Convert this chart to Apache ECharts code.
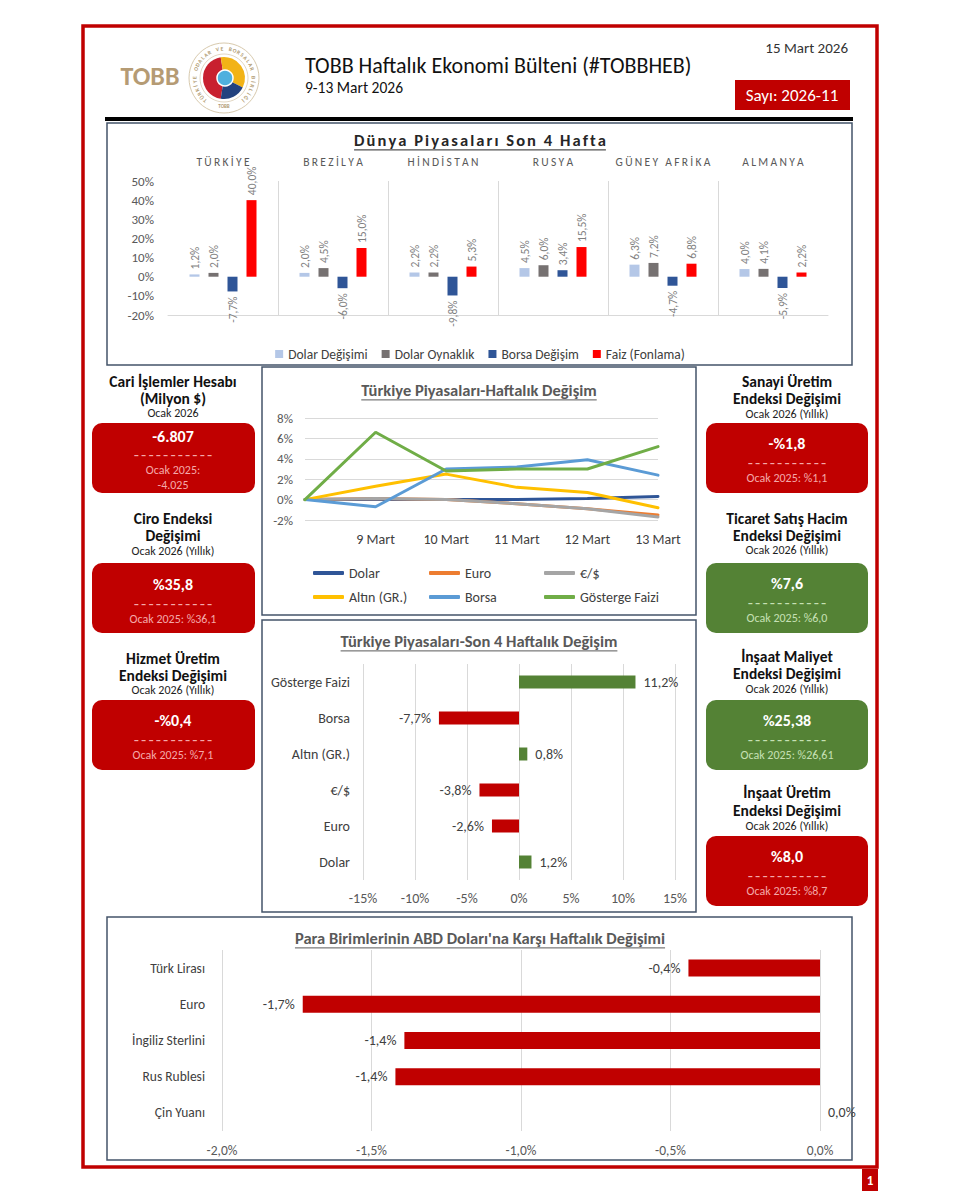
<!DOCTYPE html>
<html><head><meta charset="utf-8">
<script src="https://cdn.jsdelivr.net/npm/echarts@6/dist/echarts.min.js"></script>
<style>html,body{margin:0;padding:0;background:#fff}#c{width:960px;height:1200px}</style>
</head><body><div id="c"></div>
<script>
const FONT = 'Carlito, Lato, "Open Sans", sans-serif';

// ---- Dünya Piyasaları Son 4 Hafta ----
const worldCountries = ['TÜRKİYE','BREZİLYA','HİNDİSTAN','RUSYA','GÜNEY AFRİKA','ALMANYA'];
const dolarDegisimi = [1.2, 2.0, 2.2, 4.5, 6.3, 4.0];
const dolarOynaklik = [2.0, 4.5, 2.2, 6.0, 7.2, 4.1];
const borsaDegisim  = [-7.7, -6.0, -9.8, 3.4, -4.7, -5.9];
const faizFonlama   = [40.0, 15.0, 5.3, 15.5, 6.8, 2.2];

// ---- Türkiye Piyasaları-Haftalık Değişim ----
const weekDays  = ['', '9 Mart', '10 Mart', '11 Mart', '12 Mart', '13 Mart'];
const wDolar    = [0, 0.0, 0.0, 0.0, 0.1, 0.3];
const wEuro     = [0, 0.1, 0.0, -0.4, -0.9, -1.5];
const wEurUsd   = [0, 0.1, 0.0, -0.4, -0.9, -1.7];
const wAltin    = [0, 1.3, 2.5, 1.2, 0.7, -0.8];
const wBorsa    = [0, -0.7, 3.0, 3.2, 3.9, 2.4];
const wGosterge = [0, 6.6, 2.8, 3.0, 3.0, 5.2];

// ---- Türkiye Piyasaları-Son 4 Haftalık Değişim ----
const m4Cats = ['Dolar', 'Euro', '€/$', 'Altın (GR.)', 'Borsa', 'Gösterge Faizi'];
const m4Vals = [1.2, -2.6, -3.8, 0.8, -7.7, 11.2];

// ---- Para Birimlerinin ABD Doları'na Karşı Haftalık Değişimi ----
const curCats = ['Türk Lirası', 'Euro', 'İngiliz Sterlini', 'Rus Rublesi', 'Çin Yuanı'];
const curVals = [-0.44, -1.73, -1.39, -1.42, 0.0];

// ---- KPI texts ----
const kpiLeft = [
  {title:['Cari İşlemler Hesabı','(Milyon $)'], period:'Ocak 2026', value:'-6.807', prev:['Ocak 2025:','-4.025'], good:false},
  {title:['Ciro Endeksi','Değişimi'], period:'Ocak 2026 (Yıllık)', value:'%35,8', prev:['Ocak 2025: %36,1'], good:false},
  {title:['Hizmet Üretim','Endeksi Değişimi'], period:'Ocak 2026 (Yıllık)', value:'-%0,4', prev:['Ocak 2025: %7,1'], good:false}
];
const kpiRight = [
  {title:['Sanayi Üretim','Endeksi Değişimi'], period:'Ocak 2026 (Yıllık)', value:'-%1,8', prev:['Ocak 2025: %1,1'], good:false},
  {title:['Ticaret Satış Hacim','Endeksi Değişimi'], period:'Ocak 2026 (Yıllık)', value:'%7,6', prev:['Ocak 2025: %6,0'], good:true},
  {title:['İnşaat Maliyet','Endeksi Değişimi'], period:'Ocak 2026 (Yıllık)', value:'%25,38', prev:['Ocak 2025: %26,61'], good:true},
  {title:['İnşaat Üretim','Endeksi Değişimi'], period:'Ocak 2026 (Yıllık)', value:'%8,0', prev:['Ocak 2025: %8,7'], good:false}
];

// ---------- helpers ----------
const fmt1 = v => Number(v).toFixed(1).replace('.', ',') + '%';
const spaced = (s, sp) => s.split('').join(sp || '\u2009');
const ctx = document.createElement('canvas').getContext('2d');
const measure = (t, f) => { ctx.font = f; return ctx.measureText(t).width; };

const G = [];
function T(text, x, y, st) {
  G.push({type:'text', z:10, silent:true, style:Object.assign({text:text, x:x, y:y, fill:'#262626', fontSize:12, fontFamily:FONT, fontWeight:'normal', align:'center', verticalAlign:'middle'}, st || {})});
}
function R(x, y, w, h, st, r) {
  G.push({type:'rect', z:1, silent:true, shape:{x:x, y:y, width:w, height:h, r:r || 0}, style:Object.assign({fill:'none'}, st)});
}
function L(x1, y1, x2, y2, st) {
  G.push({type:'line', z:10, silent:true, shape:{x1:x1, y1:y1, x2:x2, y2:y2}, style:Object.assign({stroke:'#000', lineWidth:1}, st)});
}
function TU(text, cx, y, size, color) {
  T(text, cx, y, {fontSize:size, fontWeight:'bold', fill:color});
  const w = measure(text, 'bold ' + size + 'px ' + FONT);
  L(cx - w / 2, y + size * 0.6, cx + w / 2, y + size * 0.6, {stroke:color, lineWidth:1});
}
function kpi(cx, boxX, boxW, lay, d) {
  const color = d.good ? '#548235' : '#c00000';
  const sub = d.good ? '#c6e0b4' : '#f4a9a9';
  d.title.forEach((t, i) => T(t, cx, lay.titleY[i], {fontSize:15.5, lineHeight:16, fontWeight:'bold', fill:'#111'}));
  T(d.period, cx, lay.subY, {fontSize:12, lineHeight:13, fill:'#1f1f1f'});
  R(boxX, lay.boxY, boxW, 70, {fill:color}, 10);
  T(d.value, cx, lay.valueY, {fontSize:16, fontWeight:'bold', fill:'#ffffff'});
  T(spaced('-----------', '\u200A'), cx, lay.dashY, {fontSize:17, lineHeight:14, fill:sub});
  d.prev.forEach((t, i) => T(t, cx, lay.prevY + i * 15, {fontSize:12, lineHeight:14, fill:sub}));
}

// ---------- page frame & header ----------
R(83, 26, 794, 1141, {stroke:'#c00000', lineWidth:3.5});
R(862, 1169, 16, 22, {fill:'#c00000'});
T('1', 870, 1180, {fontSize:13, fontWeight:'bold', fill:'#fff'});

// logo
T('TOBB', 150, 76, {fontSize:26, fontWeight:'bold', fill:'#b59b74'});
G.push({type:'circle', z:2, silent:true, shape:{cx:224, cy:78, r:35}, style:{fill:'#fff', stroke:'#cdbb98', lineWidth:0.8}});
G.push({type:'circle', z:2, silent:true, shape:{cx:224, cy:78, r:24}, style:{fill:'#fff', stroke:'#cdbb98', lineWidth:0.6}});
G.push({type:'sector', z:3, silent:true, shape:{cx:224, cy:78, r:21, r0:0, startAngle:Math.PI*0.55, endAngle:Math.PI*1.45}, style:{fill:'#c8202f'}});
G.push({type:'sector', z:3, silent:true, shape:{cx:224, cy:78, r:21, r0:0, startAngle:Math.PI*1.45, endAngle:Math.PI*2.15}, style:{fill:'#f2b316'}});
G.push({type:'sector', z:3, silent:true, shape:{cx:224, cy:78, r:21, r0:0, startAngle:Math.PI*0.15, endAngle:Math.PI*0.55}, style:{fill:'#23427f'}});
G.push({type:'circle', z:4, silent:true, shape:{cx:225, cy:78, r:8}, style:{fill:'#4fb0de', stroke:'#fff', lineWidth:1.5}});
(function(){
  const txt = 'TÜRKİYE ODALAR VE BORSALAR BİRLİĞİ';
  const n = txt.length, a0 = -140, a1 = 140;
  for (let i = 0; i < n; i++) {
    const th = (a0 + (a1 - a0) * i / (n - 1)) * Math.PI / 180;
    G.push({type:'text', z:5, silent:true, x:224 + 29.5 * Math.sin(th), y:78 - 29.5 * Math.cos(th), rotation:-th,
      style:{text:txt[i], x:0, y:0, fontSize:5.5, fontWeight:'bold', fontFamily:FONT, fill:'#b09a70', align:'center', verticalAlign:'middle'}});
  }
})();
T('TOBB', 224, 106, {fontSize:5, fontWeight:'bold', fill:'#b09a70'});

T('TOBB Haftalık Ekonomi Bülteni (#TOBBHEB)', 305, 65, {fontSize:22, fill:'#111', align:'left'});
T('9-13 Mart 2026', 305, 87, {fontSize:15.5, fill:'#111', align:'left'});
T('15 Mart 2026', 848, 48, {fontSize:15, fill:'#333', align:'right'});
R(735, 80, 115, 30, {fill:'#c00000'});
T('Sayı: 2026-11', 792, 95, {fontSize:17, fill:'#fff'});
R(105, 117, 748, 4, {fill:'#000'});

// chart boxes
const BOX = {stroke:'#44546a', lineWidth:1.5};
R(107, 123, 745, 242, BOX);
R(262, 367, 434, 248, BOX);
R(262, 620, 434, 292, BOX);
R(107, 917, 745, 243, BOX);

// chart titles
TU(spaced('Dünya Piyasaları Son 4 Hafta', '\u200A'), 480, 140, 16.5, '#262626');
TU('Türkiye Piyasaları-Haftalık Değişim', 479, 390, 16.5, '#595959');
TU('Türkiye Piyasaları-Son 4 Haftalık Değişim', 479, 641, 16.5, '#595959');
TU("Para Birimlerinin ABD Doları'na Karşı Haftalık Değişimi", 480, 938, 16.5, '#595959');

// KPIs
const layL = [
  {titleY:[381, 398], subY:413, boxY:423, valueY:436, dashY:454, prevY:470},
  {titleY:[518, 535], subY:551, boxY:563, valueY:584, dashY:603, prevY:619},
  {titleY:[658, 675], subY:690, boxY:700, valueY:720, dashY:739, prevY:755}
];
const layR = [
  {titleY:[381, 398], subY:414, boxY:423, valueY:443, dashY:462, prevY:478},
  {titleY:[518, 535], subY:550, boxY:563, valueY:583, dashY:602, prevY:618},
  {titleY:[656, 673], subY:689, boxY:700, valueY:720, dashY:739, prevY:755},
  {titleY:[792, 810], subY:826, boxY:836, valueY:856, dashY:875, prevY:891}
];
kpiLeft.forEach((d, i) => kpi(173, 92, 163, layL[i], d));
kpiRight.forEach((d, i) => kpi(787, 706, 162, layR[i], d));

// ---------- chart option ----------
const vlab = v => ({value:v, label: v >= 0 ? {position:'top', align:'left'} : {position:'bottom', align:'right'}});
const barLabel = {show:true, rotate:90, verticalAlign:'middle', distance:5, color:'#7f7f7f', fontSize:11.5, formatter:p => fmt1(p.value)};
const worldBar = (name, arr, color) => ({name:name, type:'bar', xAxisIndex:0, yAxisIndex:0, barWidth:10, barGap:'90%', itemStyle:{color:color}, label:barLabel, data:arr.map(vlab)});
const wLine = (name, arr, color) => ({name:name, type:'line', xAxisIndex:2, yAxisIndex:1, symbol:'none', data:arr, lineStyle:{width:3, color:color, cap:'round'}, itemStyle:{color:color}});
const gridLine = {lineStyle:{color:'#d9d9d9', width:1}};
const axLab = (o) => Object.assign({color:'#595959', fontSize:13, fontFamily:FONT}, o);
const lineLegend = (names, left) => ({data:names, orient:'vertical', left:left, top:561, icon:'roundRect', itemWidth:31, itemHeight:4, itemGap:10, textStyle:{fontSize:14, color:'#404040', fontFamily:FONT}});

const option = {
  animation:false,
  textStyle:{fontFamily:FONT},
  graphic:{elements:G},
  grid:[
    {left:168, right:132, top:181, bottom:885},
    {left:305, right:302, top:418, bottom:680},
    {left:363, right:285, top:664, bottom:320},
    {left:222, right:140, top:950, bottom:69}
  ],
  xAxis:[
    {gridIndex:0, type:'category', data:worldCountries, position:'top', axisLine:{show:false}, axisTick:{show:false},
      splitLine:{show:true, showMinLine:false, showMaxLine:false, lineStyle:{color:'#d9d9d9'}},
      axisLabel:axLab({fontSize:11.5, margin:13, interval:0, formatter:v => spaced(v)})},
    {gridIndex:0, type:'category', data:worldCountries, position:'bottom', axisLine:{onZero:true, lineStyle:{color:'#d9d9d9'}}, axisTick:{show:false}, axisLabel:{show:false}},
    {gridIndex:1, type:'category', boundaryGap:false, data:weekDays, axisLine:{show:false}, axisTick:{show:false}, axisLabel:axLab({color:'#404040', fontSize:14, margin:12, interval:0})},
    {gridIndex:2, type:'value', min:-15, max:15, interval:5, axisLine:{show:false}, axisTick:{show:false}, splitLine:gridLine, axisLabel:axLab({fontSize:14, margin:11, formatter:'{value}%'})},
    {gridIndex:3, type:'value', min:-2, max:0, interval:0.5, axisLine:{show:false}, axisTick:{show:false}, splitLine:gridLine, axisLabel:axLab({fontSize:13.5, margin:12, formatter:v => fmt1(v)})}
  ],
  yAxis:[
    {gridIndex:0, type:'value', min:-20, max:50, interval:10, axisLine:{show:false}, axisTick:{show:false}, splitLine:{show:false}, axisLabel:axLab({margin:14, formatter:'{value}%'})},
    {gridIndex:1, type:'value', min:-2, max:8, interval:2, axisLine:{show:false}, axisTick:{show:false}, splitLine:gridLine, axisLabel:axLab({margin:12, formatter:'{value}%'})},
    {gridIndex:2, type:'category', data:m4Cats, axisLine:{show:false}, axisTick:{show:false}, axisLabel:axLab({color:'#404040', fontSize:14, margin:13})},
    {gridIndex:3, type:'category', data:curCats, inverse:true, axisLine:{show:false}, axisTick:{show:false}, axisLabel:axLab({color:'#404040', fontSize:13.5, margin:17})}
  ],
  legend:[
    {data:['Dolar Değişimi','Dolar Oynaklık','Borsa Değişim','Faiz (Fonlama)'], left:'center', top:342, icon:'rect', itemWidth:8, itemHeight:8, itemGap:14, textStyle:{fontSize:13.5, color:'#404040', fontFamily:FONT}},
    lineLegend(['Dolar','Altın (GR.)'], 308),
    lineLegend(['Euro','Borsa'], 424),
    lineLegend(['€/$','Gösterge Faizi'], 539)
  ],
  series:[
    worldBar('Dolar Değişimi', dolarDegisimi, '#b4c7e7'),
    worldBar('Dolar Oynaklık', dolarOynaklik, '#767171'),
    worldBar('Borsa Değişim', borsaDegisim, '#2f5597'),
    worldBar('Faiz (Fonlama)', faizFonlama, '#ff0000'),
    wLine('Dolar', wDolar, '#2f5597'),
    wLine('Euro', wEuro, '#ed7d31'),
    wLine('€/$', wEurUsd, '#a5a5a5'),
    wLine('Altın (GR.)', wAltin, '#ffc000'),
    wLine('Borsa', wBorsa, '#5b9bd5'),
    wLine('Gösterge Faizi', wGosterge, '#70ad47'),
    {name:'Son 4 Hafta', type:'bar', xAxisIndex:3, yAxisIndex:2, barWidth:13,
      label:{show:true, distance:8, color:'#404040', fontSize:14, formatter:p => fmt1(p.value)},
      data:m4Vals.map(v => ({value:v, itemStyle:{color: v >= 0 ? '#548235' : '#c00000'}, label:{position: v >= 0 ? 'right' : 'left'}}))},
    {name:'Para Birimleri', type:'bar', xAxisIndex:4, yAxisIndex:3, barWidth:17,
      itemStyle:{color:'#c00000'},
      label:{show:true, distance:8, color:'#404040', fontSize:14, formatter:p => fmt1(p.value)},
      data:curVals.map(v => ({value:v, label:{position: v < 0 ? 'left' : 'right'}}))}
  ]
};

const chart = echarts.init(document.getElementById('c'), null, {renderer:'svg', width:960, height:1200});
chart.setOption(option);
</script>
</body></html>
